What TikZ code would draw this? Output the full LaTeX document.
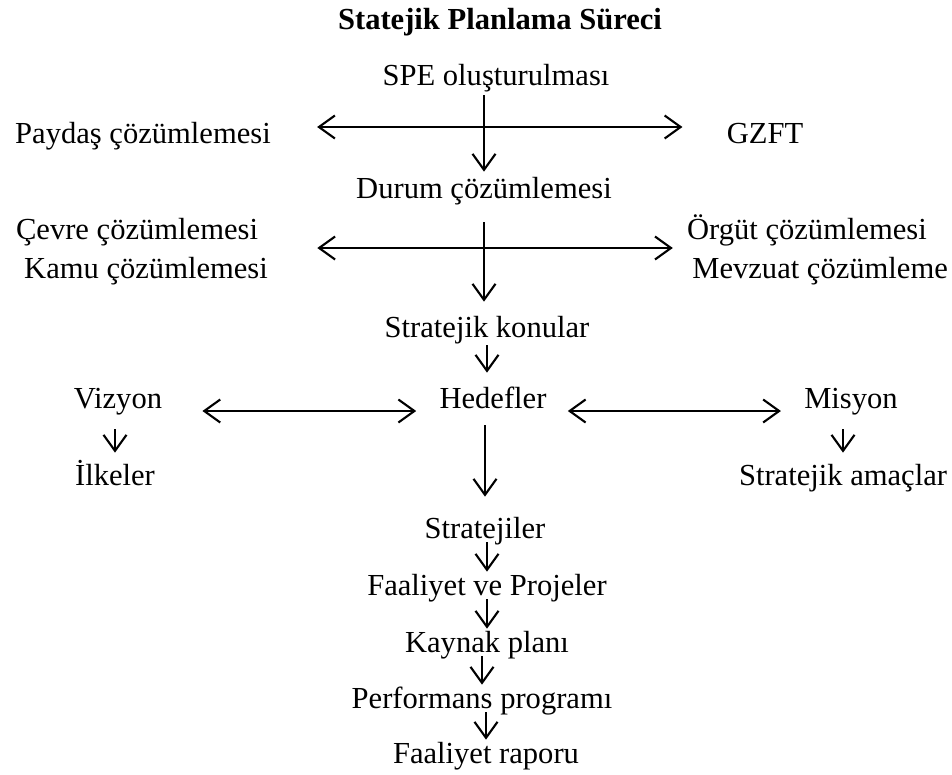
\documentclass[tikz,border=0pt]{standalone}
\usepackage{fontspec}
\setmainfont{Liberation Serif}
\usetikzlibrary{arrows.meta}

\begin{document}
\begin{tikzpicture}[
    x=0.02cm, y=-0.02cm,
    txt/.style={anchor=base, inner sep=0pt, text height=0.42cm, text depth=0.14cm, font=\fontsize{17.4}{20}\selectfont},
    heading/.style={txt, font=\fontsize{17.4}{20}\selectfont\bfseries},
    arrow/.style={line width=1.2pt, -{Straight Barb[length=0.32cm, width=0.46cm]}},
    twoway/.style={line width=1.2pt, {Straight Barb[length=0.32cm, width=0.46cm]}-{Straight Barb[length=0.32cm, width=0.46cm]}}
]
\useasboundingbox (0,0) rectangle (952,774);

\node (heading) [heading] at (500,30) {Statejik Planlama Süreci};

\node (spe) [txt] at (496,85) {SPE oluşturulması};
\node (paydas) [txt] at (143,143) {Paydaş çözümlemesi};
\node (gzft) [txt] at (765,143) {GZFT};
\node (durum) [txt] at (484,198) {Durum çözümlemesi};

\node (cevre) [txt] at (137,239) {Çevre çözümlemesi};
\node (kamu) [txt] at (146,278) {Kamu çözümlemesi};
\node (orgut) [txt] at (807,239) {Örgüt çözümlemesi};
\node (mevzuat) [txt, anchor=base west] at (692,278) {Mevzuat çözümleme};
\node (konular) [txt] at (487,337) {Stratejik konular};

\node (hedefler) [txt] at (493,408) {Hedefler};
\node (vizyon) [txt] at (118,408) {Vizyon};
\node (ilkeler) [txt] at (115,485) {İlkeler};
\node (misyon) [txt] at (851,408) {Misyon};
\node (amaclar) [txt] at (843,485) {Stratejik amaçlar};

\node (stratejiler) [txt] at (485,538) {Stratejiler};
\node (faaliyet) [txt] at (487,595) {Faaliyet ve Projeler};
\node (kaynak) [txt] at (487,652) {Kaynak planı};
\node (performans) [txt] at (482,708) {Performans programı};
\node (rapor) [txt] at (486,763) {Faaliyet raporu};

% first cross
\draw [arrow, shorten <=0.06cm, shorten >=0.1cm] (spe.south -| durum.north) -- (durum.north);
\draw [twoway, shorten <=0.92cm, shorten >=0.88cm] ([shift={(0,-16)}]paydas.base east) -- ([shift={(0,-16)}]gzft.base west);

% second cross
\draw [arrow, shorten <=0.34cm, shorten >=0.28cm] (durum.south) -- (durum.south |- konular.north);
\draw [twoway, shorten <=1.18cm, shorten >=0.28cm] ([shift={(0,9)}]cevre.base east) -- ([shift={(0,9)}]orgut.base west);

\draw [arrow, shorten <=0.02cm, shorten >=0.28cm] (konular.south) -- (konular.south |- hedefler.north);

% hedefler row
\draw [twoway, shorten <=0.8cm, shorten >=0.46cm] ([shift={(0,3)}]vizyon.base east) -- ([shift={(0,3)}]hedefler.base west);
\draw [twoway, shorten <=0.42cm, shorten >=0.46cm] ([shift={(0,3)}]hedefler.base east) -- ([shift={(0,3)}]misyon.base west);
\draw [arrow, shorten <=0.28cm, shorten >=0.22cm] (vizyon.south -| ilkeler.north) -- (ilkeler.north);
\draw [arrow, shorten <=0.28cm, shorten >=0.22cm] (misyon.south -| amaclar.north) -- (amaclar.north);
\draw [arrow, shorten <=0.2cm, shorten >=0.4cm] (hedefler.south -| stratejiler.north) -- (stratejiler.north);

% chain
\draw [arrow, shorten <=-0.06cm, shorten >=0.04cm] (stratejiler.south -| faaliyet.north) -- (faaliyet.north);
\draw [arrow, shorten <=-0.06cm, shorten >=0.04cm] (faaliyet.south -| kaynak.north) -- (kaynak.north);
\draw [arrow, shorten <=-0.06cm, shorten >=0.04cm] (kaynak.south -| performans.north) -- (performans.north);
\draw [arrow, shorten <=-0.06cm, shorten >=0.04cm] (performans.south -| rapor.north) -- (rapor.north);

\end{tikzpicture}
\end{document}
